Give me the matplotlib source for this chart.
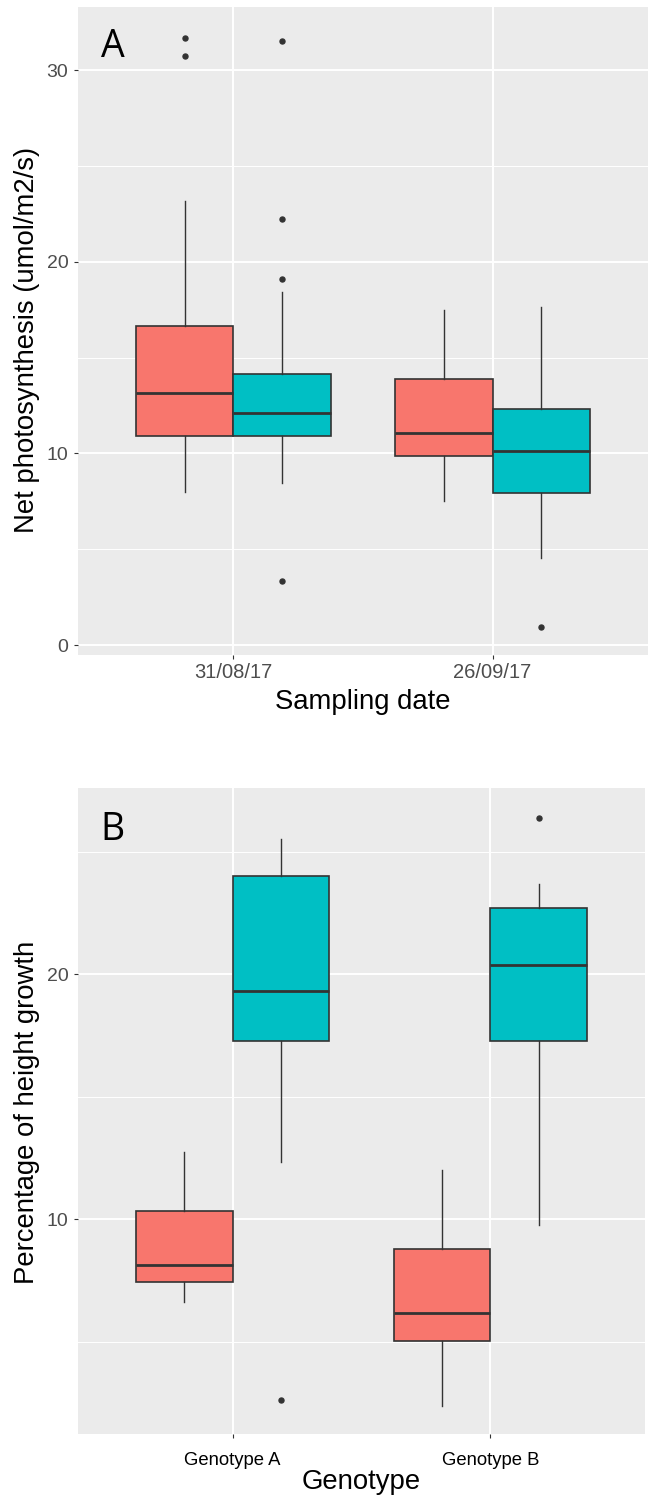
import matplotlib
matplotlib.use("Agg")
import matplotlib.pyplot as plt
from matplotlib.ticker import FixedLocator

# ---------------- data ----------------
dates = ["31/08/17", "26/09/17"]
genotypes = ["Genotype A", "Genotype B"]

# Panel A: net photosynthesis (two fill groups per date)
photo_red_whislo = [7.97, 7.52]
photo_red_q1 = [10.92, 9.85]
photo_red_med = [13.17, 11.07]
photo_red_q3 = [16.64, 13.90]
photo_red_whishi = [23.20, 17.49]
photo_red_fliers = [[31.70, 30.75], []]

photo_teal_whislo = [8.45, 4.54]
photo_teal_q1 = [10.89, 7.94]
photo_teal_med = [12.12, 10.15]
photo_teal_q3 = [14.12, 12.32]
photo_teal_whishi = [18.42, 17.63]
photo_teal_fliers = [[31.55, 22.24, 19.11, 3.34], [0.93]]

# Panel B: percentage of height growth
growth_red_whislo = [6.60, 2.39]
growth_red_q1 = [7.45, 5.03]
growth_red_med = [8.13, 6.18]
growth_red_q3 = [10.33, 8.79]
growth_red_whishi = [12.76, 12.01]
growth_red_fliers = [[], []]

growth_teal_whislo = [12.35, 9.77]
growth_teal_q1 = [17.29, 17.29]
growth_teal_med = [19.32, 20.39]
growth_teal_q3 = [24.00, 22.71]
growth_teal_whishi = [25.51, 23.67]
growth_teal_fliers = [[2.62], [26.37]]

RED = "#F8766D"
TEAL = "#00BFC4"
BG = "#EBEBEB"
EDGE = "#333333"
TICKCOL = "#4D4D4D"

plt.rcParams["font.family"] = ["Liberation Sans", "DejaVu Sans"]

W, H = 652, 1495
fig = plt.figure(figsize=(W / 100, H / 100), dpi=100)


def px_axes(left, top, right, bottom):
    return fig.add_axes([left / W, 1 - bottom / H, (right - left) / W, (bottom - top) / H])


def make_stats(whislo, q1, med, q3, whishi, fliers):
    out = []
    for i in range(len(med)):
        out.append(dict(whislo=whislo[i], q1=q1[i], med=med[i], q3=q3[i],
                        whishi=whishi[i], fliers=fliers[i]))
    return out


def draw_boxes(ax, stats, positions, color):
    ax.bxp(stats, positions=positions, widths=0.375, patch_artist=True,
           showcaps=False, showfliers=True,
           boxprops=dict(facecolor=color, edgecolor=EDGE, linewidth=1.2),
           medianprops=dict(color=EDGE, linewidth=2.0),
           whiskerprops=dict(color=EDGE, linewidth=1.0),
           flierprops=dict(marker="o", markersize=3.6, markerfacecolor=EDGE,
                           markeredgecolor=EDGE, linestyle="none"),
           zorder=3)


def style_axes(ax, ylim, major, minor, xlabels, xcolor, xsize, xpad):
    ax.set_facecolor(BG)
    for s in ax.spines.values():
        s.set_visible(False)
    ax.set_xlim(0.4, 2.6)
    ax.set_ylim(*ylim)
    ax.yaxis.set_major_locator(FixedLocator(major))
    ax.yaxis.set_minor_locator(FixedLocator(minor))
    ax.set_xticks([1, 2])
    ax.set_xticklabels(xlabels)
    ax.grid(which="major", color="white", linewidth=1.4, zorder=0)
    ax.grid(which="minor", axis="y", color="white", linewidth=0.7, zorder=0)
    ax.set_axisbelow(True)
    ax.tick_params(axis="y", which="major", length=3, width=0.8, color=EDGE,
                   labelsize=14, labelcolor=TICKCOL, pad=4)
    ax.tick_params(axis="y", which="minor", length=0)
    ax.tick_params(axis="x", which="major", length=3, width=0.8, color=EDGE,
                   labelsize=xsize, labelcolor=xcolor, pad=xpad)


# ---------------- Panel A ----------------
axA = px_axes(78, 7, 648, 655)
pos_red = [i + 1 - 0.1875 for i in range(len(dates))]
pos_teal = [i + 1 + 0.1875 for i in range(len(dates))]
draw_boxes(axA, make_stats(photo_red_whislo, photo_red_q1, photo_red_med, photo_red_q3,
                           photo_red_whishi, photo_red_fliers), pos_red, RED)
draw_boxes(axA, make_stats(photo_teal_whislo, photo_teal_q1, photo_teal_med, photo_teal_q3,
                           photo_teal_whishi, photo_teal_fliers), pos_teal, TEAL)
style_axes(axA, (-0.52, 33.3), [0, 10, 20, 30], [5, 15, 25], dates, TICKCOL, 14.5, 2.5)
axA.set_ylabel("Net photosynthesis (umol/m2/s)", fontsize=19.8)
axA.yaxis.set_label_coords(-0.0886, 0.486)
axA.yaxis.label.set_va("center")
axA.set_xlabel("Sampling date", fontsize=19.8)
axA.xaxis.set_label_coords(0.499, -0.0725)
axA.xaxis.label.set_va("center")
axA.text(112.7 / 570 - 78 / 570 + 78 / 570 - 0.0, 0, "")
axA.text((112.7 - 78) / 570, (655 - 46.7) / 648, "A", transform=axA.transAxes,
         ha="center", va="center", fontsize=27, family=["Open Sans", "DejaVu Sans"],
         color="black")

# ---------------- Panel B ----------------
axB = px_axes(78, 788, 645, 1434.3)
draw_boxes(axB, make_stats(growth_red_whislo, growth_red_q1, growth_red_med, growth_red_q3,
                           growth_red_whishi, growth_red_fliers), pos_red, RED)
draw_boxes(axB, make_stats(growth_teal_whislo, growth_teal_q1, growth_teal_med, growth_teal_q3,
                           growth_teal_whishi, growth_teal_fliers), pos_teal, TEAL)
style_axes(axB, (1.22, 27.6), [10, 20], [5, 15, 25], genotypes, "black", 13.3, 10)
axB.set_ylabel("Percentage of height growth", fontsize=19.8)
axB.yaxis.set_label_coords(-0.0905, 0.498)
axB.yaxis.label.set_va("center")
axB.set_xlabel("Genotype", fontsize=19.8)
axB.xaxis.set_label_coords(0.5003, -0.0738)
axB.xaxis.label.set_va("center")
axB.text((112 - 78) / 567, (1434.3 - 829.7) / 646.3, "B", transform=axB.transAxes,
         ha="center", va="center", fontsize=27, family=["Open Sans", "DejaVu Sans"],
         color="black")

fig.savefig("out.png", dpi=100)
